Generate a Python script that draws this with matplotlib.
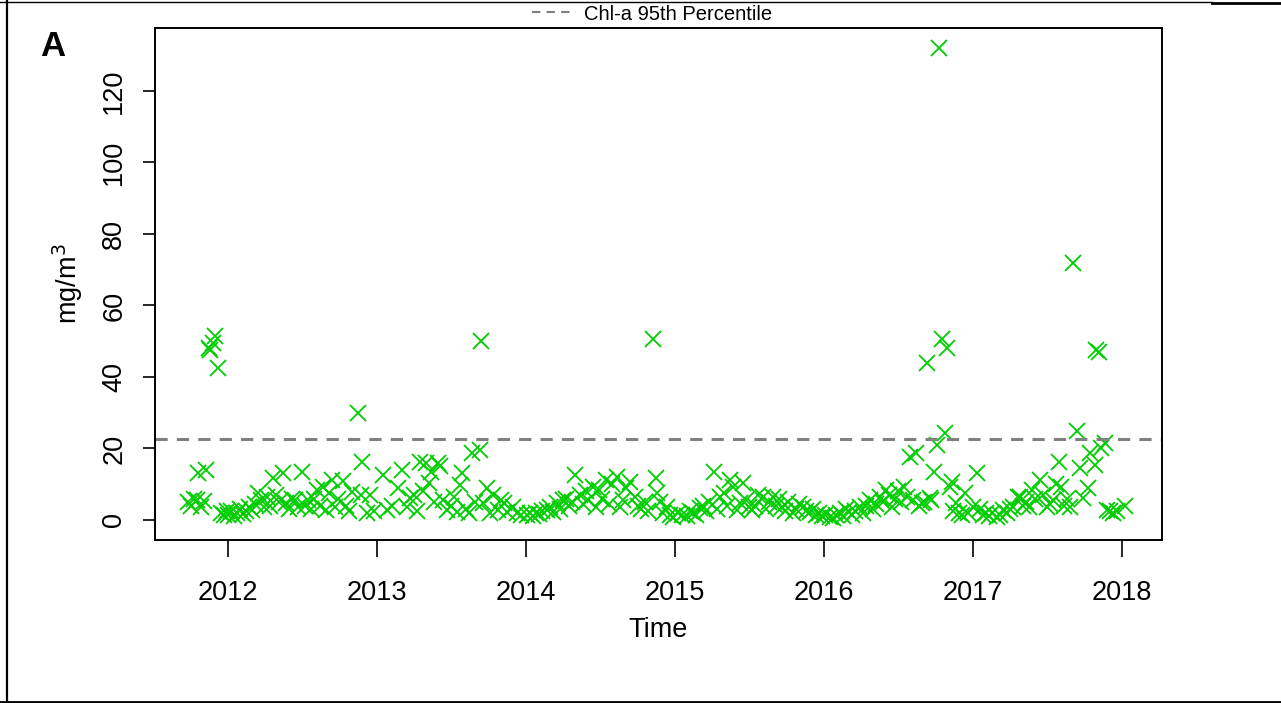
import numpy as np
import matplotlib.pyplot as plt
from matplotlib.lines import Line2D

plt.rcParams['font.family'] = ['Liberation Sans', 'DejaVu Sans']

# sampling dates (decimal years) and chlorophyll-a values (mg/m3), year by year
t_2011 = [2011.73, 2011.75, 2011.77, 2011.79, 2011.80, 2011.82, 2011.84, 2011.85,
          2011.87, 2011.88, 2011.90, 2011.91, 2011.93, 2011.95, 2011.97, 2011.99]
v_2011 = [5.0, 4.0, 6.0, 5.6, 13.1, 3.6, 5.2, 14.0,
          48.0, 47.5, 49.5, 51.5, 42.5, 2.0, 1.5, 2.5]

t_2012 = [2012.00, 2012.02, 2012.04, 2012.06, 2012.08, 2012.10, 2012.12, 2012.14,
          2012.16, 2012.18, 2012.20, 2012.22, 2012.24, 2012.26, 2012.28, 2012.30,
          2012.32, 2012.34, 2012.37, 2012.39, 2012.41, 2012.43, 2012.45, 2012.47,
          2012.50, 2012.52, 2012.54, 2012.56, 2012.58, 2012.60, 2012.62, 2012.64,
          2012.66, 2012.68, 2012.70, 2012.72, 2012.74, 2012.77, 2012.79, 2012.81,
          2012.83, 2012.87, 2012.89, 2012.90, 2012.93, 2012.95, 2012.98]
v_2012 = [1.5, 2.5, 1.2, 2.0, 3.0, 1.8, 2.5, 3.6,
          2.8, 4.5, 7.5, 5.6, 3.5, 6.5, 4.0, 11.7,
          7.0, 5.0, 13.0, 4.7, 3.0, 6.0, 5.6, 3.5,
          13.4, 4.0, 5.6, 3.2, 6.0, 8.4, 4.0, 9.2,
          2.8, 7.5, 11.2, 3.6, 6.0, 11.0, 4.0, 2.5,
          7.8, 30.0, 7.0, 16.2, 2.0, 7.0, 2.5]

t_2013 = [2013.04, 2013.07, 2013.10, 2013.14, 2013.17, 2013.20, 2013.22, 2013.25,
          2013.27, 2013.29, 2013.31, 2013.33, 2013.35, 2013.36, 2013.38, 2013.41,
          2013.42, 2013.44, 2013.47, 2013.50, 2013.52, 2013.54, 2013.56, 2013.57,
          2013.60, 2013.62, 2013.64, 2013.66, 2013.69, 2013.70, 2013.71, 2013.74,
          2013.76, 2013.78, 2013.81, 2013.83, 2013.85, 2013.87, 2013.91, 2013.94,
          2013.97]
v_2013 = [12.6, 2.8, 4.0, 9.0, 14.0, 3.6, 6.2, 7.0,
          2.5, 16.2, 8.0, 16.0, 10.3, 13.4, 5.0, 16.0,
          15.0, 5.6, 2.8, 4.0, 6.5, 2.2, 9.8, 13.0,
          3.0, 2.0, 18.7, 5.0, 19.6, 50.0, 4.7, 9.0,
          2.0, 7.0, 2.8, 5.6, 4.7, 2.2, 3.5, 2.0,
          1.5]

t_2014 = [2014.01, 2014.03, 2014.05, 2014.07, 2014.09, 2014.11, 2014.14, 2014.16,
          2014.18, 2014.21, 2014.23, 2014.25, 2014.27, 2014.29, 2014.31, 2014.33,
          2014.36, 2014.38, 2014.40, 2014.42, 2014.45, 2014.47, 2014.49, 2014.51,
          2014.54, 2014.56, 2014.58, 2014.61, 2014.63, 2014.65, 2014.67, 2014.70,
          2014.73, 2014.75, 2014.77, 2014.80, 2014.82, 2014.85, 2014.87, 2014.88,
          2014.90, 2014.92, 2014.95, 2014.97, 2014.99]
v_2014 = [1.4, 2.0, 1.2, 2.0, 1.8, 2.5, 2.8, 3.5,
          2.2, 4.7, 3.0, 5.6, 6.0, 4.0, 5.0, 12.6,
          7.0, 4.5, 8.0, 5.5, 9.2, 3.5, 8.5, 6.0,
          11.2, 4.5, 10.0, 12.0, 3.5, 5.5, 9.0, 10.6,
          6.4, 4.0, 3.0, 5.0, 2.5, 50.5, 11.7, 7.5,
          5.0, 2.0, 3.6, 1.5, 0.8]

t_2015 = [2015.02, 2015.05, 2015.08, 2015.10, 2015.12, 2015.14, 2015.17, 2015.19,
          2015.21, 2015.23, 2015.26, 2015.28, 2015.30, 2015.33, 2015.35, 2015.37,
          2015.39, 2015.42, 2015.44, 2015.46, 2015.48, 2015.50, 2015.52, 2015.54,
          2015.56, 2015.59, 2015.61, 2015.63, 2015.66, 2015.68, 2015.70, 2015.72,
          2015.74, 2015.76, 2015.79, 2015.81, 2015.83, 2015.86, 2015.88, 2015.91,
          2015.93, 2015.95, 2015.97, 2015.99]
v_2015 = [2.0, 1.4, 1.0, 2.5, 2.0, 1.5, 3.4, 4.0,
          2.5, 5.0, 13.4, 3.0, 6.4, 7.5, 4.0, 11.2,
          9.2, 2.8, 4.7, 10.3, 5.5, 3.5, 2.8, 4.0,
          7.0, 6.4, 3.0, 5.0, 6.4, 4.0, 6.0, 3.6,
          2.5, 5.0, 2.0, 3.0, 4.5, 3.6, 2.5, 2.2,
          3.0, 1.5, 2.0, 1.0]

t_2016 = [2016.01, 2016.04, 2016.06, 2016.08, 2016.11, 2016.13, 2016.15, 2016.17,
          2016.19, 2016.21, 2016.24, 2016.26, 2016.28, 2016.31, 2016.33, 2016.35,
          2016.38, 2016.40, 2016.42, 2016.44, 2016.46, 2016.48, 2016.50, 2016.52,
          2016.54, 2016.56, 2016.58, 2016.60, 2016.62, 2016.64, 2016.66, 2016.67,
          2016.69, 2016.71, 2016.72, 2016.74, 2016.76, 2016.77, 2016.79, 2016.81,
          2016.83, 2016.85, 2016.86, 2016.87, 2016.89, 2016.91, 2016.93, 2016.95,
          2016.97]
v_2016 = [1.5, 0.8, 0.5, 1.5, 2.0, 1.0, 3.0, 2.2,
          1.5, 2.5, 3.6, 2.0, 4.0, 5.6, 3.0, 4.5,
          6.4, 5.0, 8.4, 7.0, 3.6, 6.0, 8.0, 5.0,
          9.2, 6.5, 17.6, 5.5, 18.7, 4.0, 4.7, 5.0,
          44.0, 6.2, 5.5, 13.4, 21.0, 132.0, 50.5, 24.3,
          48.0, 9.2, 10.6, 2.5, 4.7, 2.0, 1.5, 7.5,
          2.0]

t_2017 = [2017.00, 2017.03, 2017.05, 2017.07, 2017.09, 2017.11, 2017.13, 2017.16,
          2017.18, 2017.20, 2017.23, 2017.25, 2017.27, 2017.30, 2017.32, 2017.34,
          2017.36, 2017.38, 2017.40, 2017.42, 2017.45, 2017.47, 2017.50, 2017.52,
          2017.54, 2017.56, 2017.58, 2017.59, 2017.61, 2017.63, 2017.65, 2017.67,
          2017.70, 2017.72, 2017.74, 2017.77, 2017.79, 2017.82, 2017.83, 2017.85,
          2017.86, 2017.89, 2017.90, 2017.92, 2017.94, 2017.97, 2018.02]
v_2017 = [3.6, 13.0, 3.0, 1.5, 2.0, 1.0, 2.0, 0.8,
          1.5, 2.8, 2.0, 3.0, 3.6, 6.4, 6.4, 4.0,
          5.0, 3.5, 8.4, 6.0, 11.2, 7.0, 3.6, 4.5,
          5.6, 10.0, 16.2, 9.2, 4.0, 6.0, 3.6, 72.0,
          25.0, 14.5, 6.2, 9.0, 18.7, 15.4, 47.5, 47.0,
          20.0, 21.5, 2.8, 2.5, 2.0, 2.5, 3.8]

times = np.concatenate([t_2011, t_2012, t_2013, t_2014, t_2015, t_2016, t_2017])
chla = np.concatenate([v_2011, v_2012, v_2013, v_2014, v_2015, v_2016, v_2017])

p95 = 22.7
year_ticks = [2012, 2013, 2014, 2015, 2016, 2017, 2018]
y_ticks = [0, 20, 40, 60, 80, 100, 120]

W, H = 1281, 703
fig = plt.figure(figsize=(W / 100, H / 100), dpi=100)
ax = fig.add_axes([155 / W, 1 - 540 / H, (1162 - 155) / W, (540 - 28) / H])

ax.plot(times, chla, linestyle='none', marker='x', color='#00CD00',
        markersize=11.5, markeredgewidth=1.3)
ax.axhline(p95, color='#808080', linewidth=2.2, dashes=(4, 3))

ax.set_xlim(2011.51, 2018.27)
ax.set_ylim(-5.6, 137.6)
ax.set_xticks(year_ticks)
ax.set_yticks(y_ticks)
ax.tick_params(axis='x', labelsize=19.5, length=12, width=1.2, pad=17)
ax.tick_params(axis='y', labelsize=19.5, length=9, width=1.2, pad=11)
for lab in ax.get_yticklabels():
    lab.set_rotation(90)
    lab.set_va('center')
for sp in ax.spines.values():
    sp.set_linewidth(1.4)

ax.set_xlabel('Time', fontsize=19.5, labelpad=8)
ax.set_ylabel('mg/m$^3$', fontsize=19.5, labelpad=12)

fig.text(40 / W, 1 - 47 / H, 'A', fontsize=25, fontweight='bold', va='center', ha='left')

handle = Line2D([], [], color='#808080', linewidth=1.5, dashes=(4, 3))
fig.legend([handle], ['Chl-a 95th Percentile'], loc='center', bbox_to_anchor=(652 / W, 1 - 14 / H),
           frameon=False, fontsize=14.5, handlelength=2.2, handletextpad=0.4, borderaxespad=0)

# outer panel border
fig.add_artist(Line2D([7 / W, 7 / W], [0, 1], color='black', linewidth=1.6, transform=fig.transFigure))
fig.add_artist(Line2D([0, 1], [1 - 701.5 / H, 1 - 701.5 / H], color='black', linewidth=2, transform=fig.transFigure))
fig.add_artist(Line2D([0, 1212 / W], [1 - 1.5 / H, 1 - 1.5 / H], color='black', linewidth=1, transform=fig.transFigure))
fig.add_artist(Line2D([1212 / W, 1], [1 - 3 / H, 1 - 3 / H], color='black', linewidth=2, transform=fig.transFigure))

fig.savefig('out.png', dpi=100)
